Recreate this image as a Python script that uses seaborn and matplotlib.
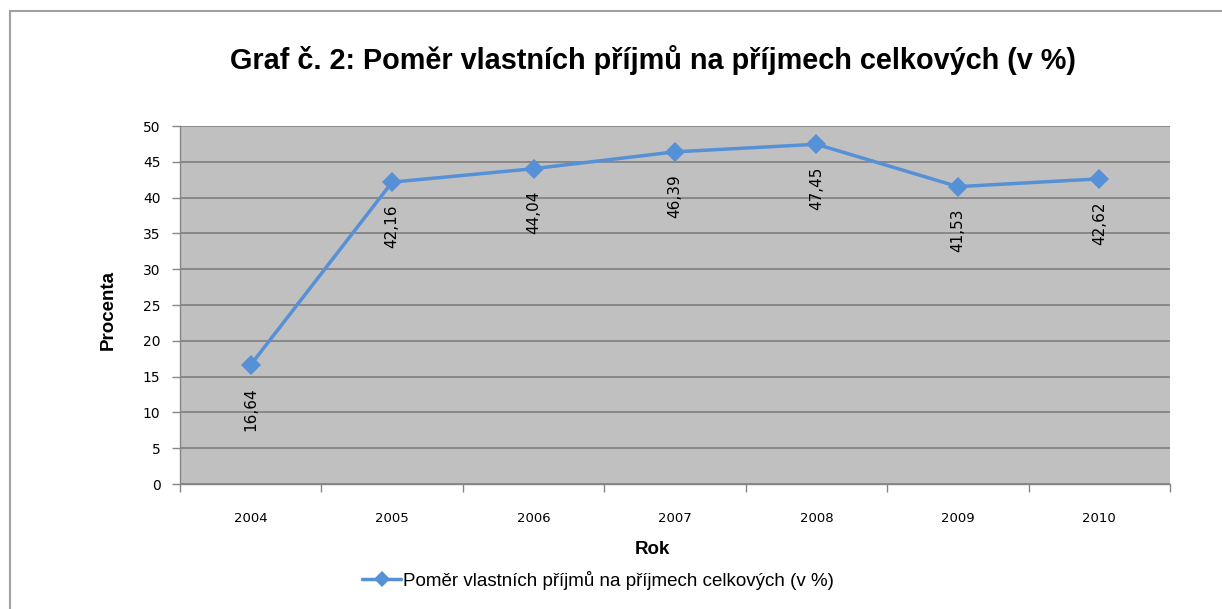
import matplotlib
matplotlib.use("Agg")
import matplotlib.pyplot as plt
import seaborn as sns
import pandas as pd
from matplotlib.lines import Line2D

years = ["2004", "2005", "2006", "2007", "2008", "2009", "2010"]
values = [16.64, 42.16, 44.04, 46.39, 47.45, 41.53, 42.62]
value_labels = ["16,64", "42,16", "44,04", "46,39", "47,45", "41,53", "42,62"]
y_ticks = [0, 5, 10, 15, 20, 25, 30, 35, 40, 45, 50]
series_name = "Poměr vlastních příjmů na příjmech celkových (v %)"

sns.set_theme(style="white")
plt.rcParams['font.family'] = ['Liberation Sans', 'DejaVu Sans']
plt.rcParams['text.color'] = 'black'

W, H = 1222, 609
fig = plt.figure(figsize=(W / 100, H / 100), dpi=100)
ax = fig.add_axes([180 / W, 1 - 484 / H, 990 / W, 358 / H])

df = pd.DataFrame({"idx": list(range(len(years))), "val": values})
color = "#5690D6"
sns.lineplot(data=df, x="idx", y="val", ax=ax, color=color, linewidth=2.5,
             marker="D", markersize=10, markeredgewidth=0, legend=False)

ax.set_facecolor("#C0C0C0")
ax.set_xlim(-0.5, len(years) - 0.5)
ax.set_ylim(0, 50)
ax.set_yticks(y_ticks)
ax.yaxis.grid(True, color="#7F7F7F", linewidth=1.2)
ax.set_axisbelow(True)
for s in ["top", "right"]:
    ax.spines[s].set_visible(False)
for s in ["left", "bottom"]:
    ax.spines[s].set_color("#868686")
    ax.spines[s].set_linewidth(1)

ax.set_xticks(range(len(years)))
ax.set_xticklabels(years)
ax.set_xticks([i - 0.5 for i in range(len(years) + 1)], minor=True)
ax.tick_params(axis="x", which="major", length=0, pad=20, labelcolor="black")
ax.tick_params(axis="x", which="minor", length=6, width=1, color="#868686", direction="out", bottom=True)
ax.tick_params(axis="y", which="major", length=6, width=1, color="#868686", direction="out",
               left=True, labelcolor="black", pad=8)
for lab in ax.get_xticklabels() + ax.get_yticklabels():
    lab.set_family(['DejaVu Sans'])
for lab in ax.get_xticklabels():
    lab.set_fontsize(9.5)
for lab in ax.get_yticklabels():
    lab.set_fontsize(10)

for i, (v, t) in enumerate(zip(values, value_labels)):
    ax.annotate(t, xy=(i, v), xytext=(0, -16), textcoords="offset points",
                ha="center", va="top", rotation=90, fontsize=11, color="black",
                family=['DejaVu Sans'])

ax.set_xlabel("")
ax.set_ylabel("")
fig.text(108 / W, 1 - 310 / H, "Procenta", rotation=90, ha="center", va="center",
         fontsize=13.5, fontweight="bold", color="black")
fig.text(652 / W, 1 - 549 / H, "Rok", ha="center", va="center", fontsize=13.5,
         fontweight="bold", color="black")
fig.text(653 / W, 1 - 60 / H, "Graf č. 2: Poměr vlastních příjmů na příjmech celkových (v %)",
         ha="center", va="center", fontsize=20.8, fontweight="bold", color="black")

handle = Line2D([], [], color=color, linewidth=2.5, marker="D", markersize=8, markeredgewidth=0)
leg = fig.legend([handle], [series_name], loc="center", bbox_to_anchor=(598 / W, 1 - 580 / H),
                 frameon=False, fontsize=13.5, handlelength=2.1, handletextpad=0.1)
for t in leg.get_texts():
    t.set_color("black")

fig.add_artist(Line2D([9.5 / W, 9.5 / W], [0, 1 - 10.5 / H], color="#A0A0A0", linewidth=1.5,
                      transform=fig.transFigure))
fig.add_artist(Line2D([9.5 / W, 1], [1 - 10.5 / H, 1 - 10.5 / H], color="#A0A0A0", linewidth=1.5,
                      transform=fig.transFigure))

fig.savefig("out.png", dpi=100)
